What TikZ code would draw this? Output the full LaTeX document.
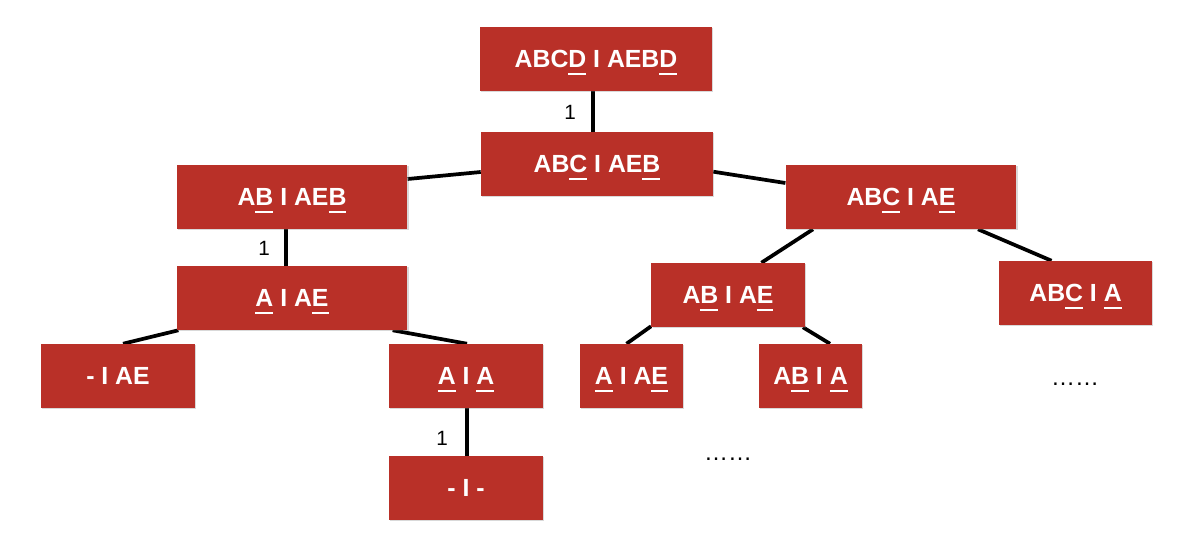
\documentclass[tikz,border=0pt]{standalone}
\usepackage{fontspec}
\setmainfont{Liberation Sans}
\usetikzlibrary{calc,shadows}
\definecolor{boxred}{RGB}{185,48,40}
\newcommand\ulc[1]{\setbox0=\hbox{#1}\rlap{\smash{\rule[-5.2pt]{\wd0}{1.4pt}}}\box0\relax}
\pgfdeclarelayer{bg}
\pgfsetlayers{bg,main}
\begin{document}
\begin{tikzpicture}[x=0.75pt,y=-0.75pt,
  tbox/.style={fill=boxred, text=white, font=\bfseries\fontsize{18.6}{20}\selectfont,
    inner sep=0pt, text height=13.2pt, text depth=0pt, minimum height=48pt,
    drop shadow={shadow xshift=0.9pt,shadow yshift=-0.9pt,opacity=0.3}},
  edge/.style={line width=2.8pt},
  lbl/.style={font=\fontsize{15.5}{17}\selectfont, inner sep=0pt},
  dotsty/.style={font=\fontsize{18}{20}\selectfont, inner sep=0pt}]
\useasboundingbox (0,0) rectangle (1184,553);

\node[tbox, minimum width=174pt] (root) at (596,59) {ABC\ulc{D} I AEB\ulc{D}};
\node[tbox, minimum width=174pt] (abc) at (597,164) {AB\ulc{C} I AE\ulc{B}};
\node[tbox, minimum width=173pt] (ab) at (292,197) {A\ulc{B} I AE\ulc{B}};
\node[tbox, minimum width=173pt] (abcae) at (901,197) {AB\ulc{C} I A\ulc{E}};
\node[tbox, minimum width=173pt] (aae) at (292,298) {\ulc{A} I A\ulc{E}};
\node[tbox, minimum width=115.5pt] (mae) at (118,376) {- I AE};
\node[tbox, minimum width=115.5pt] (aa) at (466,376) {\ulc{A} I \ulc{A}};
\node[tbox, minimum width=115.5pt] (mm) at (466,488) {- I -};
\node[tbox, minimum width=115pt] (abae) at (728,295) {A\ulc{B} I A\ulc{E}};
\node[tbox, minimum width=115pt] (abca) at (1075.5,293) {AB\ulc{C} I \ulc{A}};
\node[tbox, minimum width=77.25pt] (aae2) at (631.5,376) {\ulc{A} I A\ulc{E}};
\node[tbox, minimum width=77.25pt] (aba) at (810.5,376) {A\ulc{B} I \ulc{A}};

\node[lbl] (l1) at (570,112) {1};
\node[lbl] (l2) at (264,248) {1};
\node[lbl] (l3) at (442,438) {1};
\node[dotsty] (d1) at (728,459) {……};
\node[dotsty] (d2) at (1075,384) {……};

\begin{pgfonlayer}{bg}
\draw[edge] ($(root.south)+(-3,0)$) -- ($(abc.north)+(-4,0)$);
\draw[edge] ($(abc.west)+(0,8)$) -- ($(ab.east)+(0,-18)$);
\draw[edge] ($(abc.east)+(0,7.7)$) -- ($(abcae.west)+(0,-14)$);
\draw[edge] ($(ab.south)+(-6,0)$) -- ($(aae.north)+(-6,0)$);
\draw[edge] ($(abcae.south)+(-88,0)$) -- ($(abae.north)+(33.4,0)$);
\draw[edge] ($(abcae.south)+(77,0)$) -- ($(abca.north)+(-24,0)$);
\draw[edge] ($(aae.south west)+(2,0)$) -- ($(mae.north)+(5,0)$);
\draw[edge] ($(aae.south east)+(-15,0)$) -- ($(aa.north)+(1,0)$);
\draw[edge] ($(aa.south)+(1,0)$) -- ($(mm.north)+(1,0)$);
\draw[edge] ($(abae.south west)+(0,-1)$) -- ($(aae2.north)+(-5,0)$);
\draw[edge] ($(abae.south east)+(-2,0)$) -- ($(aba.north)+(19.5,0)$);
\end{pgfonlayer}
\end{tikzpicture}
\end{document}
